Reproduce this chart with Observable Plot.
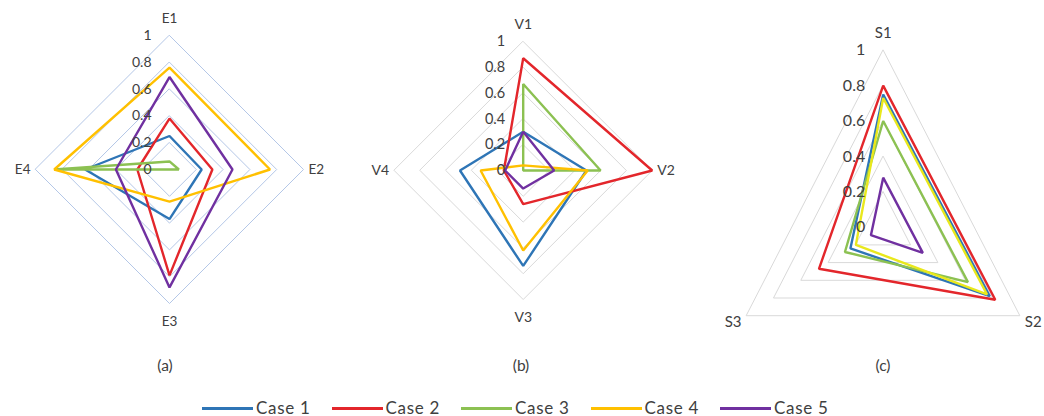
<!DOCTYPE html>
<html>
<head>
<meta charset="utf-8">
<script src="https://cdn.jsdelivr.net/npm/d3@7"></script>
<script src="https://cdn.jsdelivr.net/npm/@observablehq/plot@0.6"></script>
<style>
  html, body { margin: 0; padding: 0; background: #fff; }
  #wrap { position: relative; width: 1044px; height: 416px; font-family: Lato, "Open Sans", sans-serif; color: #404040; }
  .panel { position: absolute; top: 0; }
  .panel svg { overflow: visible; }
  .sub { position: absolute; top: 356px; font-size: 15.5px; line-height: 18px; transform: translateX(-50%); color: #404040; white-space: nowrap; }
  #legend { position: absolute; top: 400px; left: 202px; display: flex; font-size: 17px; line-height: 16px; letter-spacing: 0.7px; color: #404040; white-space: nowrap; }
  .item { display: flex; align-items: center; width: 129.5px; flex: none; }
  .swatch { width: 51px; height: 3px; margin-right: 3px; flex: none; }
</style>
</head>
<body>
<div id="wrap">
  <div id="pa" class="panel" style="left:0px"></div>
  <div id="pb" class="panel" style="left:345px"></div>
  <div id="pc" class="panel" style="left:690px"></div>
  <div class="sub" style="left:165px">(a)</div>
  <div class="sub" style="left:521px">(b)</div>
  <div class="sub" style="left:883px">(c)</div>
  <div id="legend"></div>
</div>
<script>
// ---- data ----
const cases = ["Case 1", "Case 2", "Case 3", "Case 4", "Case 5"];
const caseColors = ["#2e75b6", "#e3262b", "#8cc152", "#ffc000", "#7030a0"];
const caseColorsC = ["#2e75b6", "#e3262b", "#8cc152", "#e9e81c", "#7030a0"];
const gridLevels = [0.2, 0.4, 0.6, 0.8, 1];
const tickValues = [0, 0.2, 0.4, 0.6, 0.8, 1];
const tickLabels = ["0", "0.2", "0.4", "0.6", "0.8", "1"];

const eAxes = ["E1", "E2", "E3", "E4"];
const eCase1 = [0.25, 0.24, 0.37, 0.63];
const eCase2 = [0.38, 0.32, 0.79, 0.24];
const eCase3 = [0.06, 0.07, 0.00, 0.86];
const eCase4 = [0.76, 0.75, 0.24, 0.86];
const eCase5 = [0.69, 0.47, 0.88, 0.40];

const vAxes = ["V1", "V2", "V3", "V4"];
const vCase1 = [0.30, 0.49, 0.74, 0.49];
const vCase2 = [0.87, 1.00, 0.26, 0.15];
const vCase3 = [0.67, 0.60, 0.00, 0.00];
const vCase4 = [0.04, 0.50, 0.62, 0.33];
const vCase5 = [0.30, 0.24, 0.14, 0.14];

const sAxes = ["S1", "S2", "S3"];
const sCase1 = [0.75, 0.78, 0.24];
const sCase2 = [0.80, 0.82, 0.47];
const sCase3 = [0.60, 0.62, 0.28];
const sCase4 = [0.73, 0.76, 0.20];
const sCase5 = [0.28, 0.29, 0.09];

// ---- radar builder ----
function radar({axes, series, colors, gridColor, width, height, cx, cy, rx, ry, tickSize, labelSize, tickDx}) {
  const n = axes.length;
  const dir = axes.map((a, i) => ({ux: Math.sin(2 * Math.PI * i / n), uy: Math.cos(2 * Math.PI * i / n)}));
  const grid = [];
  gridLevels.forEach(l => dir.forEach(d => grid.push({level: l, x: l * d.ux, y: l * d.uy})));
  const rows = [];
  series.forEach((vals, s) => vals.forEach((v, i) => rows.push({case: cases[s], x: v * dir[i].ux, y: v * dir[i].uy})));
  const ticks = tickValues.map((v, i) => ({x: 0, y: v, t: tickLabels[i]}));
  const labelMarks = axes.map((a, i) => {
    const d = dir[i];
    let o;
    if (d.uy > 0.5) o = {textAnchor: "middle", dx: 0, dy: -17};
    else if (d.ux > 0.5) o = {textAnchor: "start", dx: 5, dy: d.uy < -0.1 ? 6 : 0};
    else if (d.ux < -0.5) o = {textAnchor: "end", dx: -5, dy: d.uy < -0.1 ? 6 : 0};
    else o = {textAnchor: "middle", dx: 0, dy: 18};
    return Plot.text([{x: d.ux, y: d.uy, t: a}], {x: "x", y: "y", text: "t", fontSize: labelSize, fill: "#404040", ...o});
  });
  return Plot.plot({
    width, height, margin: 0,
    style: {fontFamily: "Lato, 'Open Sans', sans-serif", overflow: "visible", background: "transparent"},
    x: {domain: [-cx / rx, (width - cx) / rx], range: [0, width], axis: null},
    y: {domain: [-(height - cy) / ry, cy / ry], range: [height, 0], axis: null},
    color: {domain: cases, range: colors},
    marks: [
      Plot.line(grid, {x: "x", y: "y", z: "level", curve: "linear-closed", stroke: gridColor, strokeWidth: 1}),
      Plot.line(rows, {x: "x", y: "y", z: "case", stroke: "case", curve: "linear-closed", strokeWidth: 2.4, strokeLinejoin: "miter"}),
      Plot.text(ticks, {x: "x", y: "y", text: "t", textAnchor: "end", dx: tickDx, fontSize: tickSize, fill: "#404040"}),
      ...labelMarks
    ]
  });
}

document.getElementById("pa").appendChild(radar({
  axes: eAxes, series: [eCase1, eCase2, eCase3, eCase4, eCase5], colors: caseColors,
  gridColor: "#b4c7e7", width: 340, height: 340, cx: 169, cy: 169, rx: 134, ry: 134,
  tickSize: 14, labelSize: 13.5, tickDx: -18
}));
document.getElementById("pb").appendChild(radar({
  axes: vAxes, series: [vCase1, vCase2, vCase3, vCase4, vCase5], colors: caseColors,
  gridColor: "#d9d9d9", width: 340, height: 340, cx: 177.7, cy: 170, rx: 129, ry: 129,
  tickSize: 14.5, labelSize: 14, tickDx: -18
}));
document.getElementById("pc").appendChild(radar({
  axes: sAxes, series: [sCase1, sCase2, sCase3, sCase4, sCase5], colors: caseColorsC,
  gridColor: "#d9d9d9", width: 354, height: 340, cx: 192.7, cy: 226.7, rx: 157.8, ry: 177,
  tickSize: 16, labelSize: 15, tickDx: -18
}));

// ---- legend ----
const legend = document.getElementById("legend");
cases.forEach((c, i) => {
  const item = document.createElement("div");
  item.className = "item";
  const sw = document.createElement("span");
  sw.className = "swatch";
  sw.style.background = caseColors[i];
  const tx = document.createElement("span");
  tx.textContent = c;
  item.appendChild(sw);
  item.appendChild(tx);
  legend.appendChild(item);
});
</script>
</body>
</html>
